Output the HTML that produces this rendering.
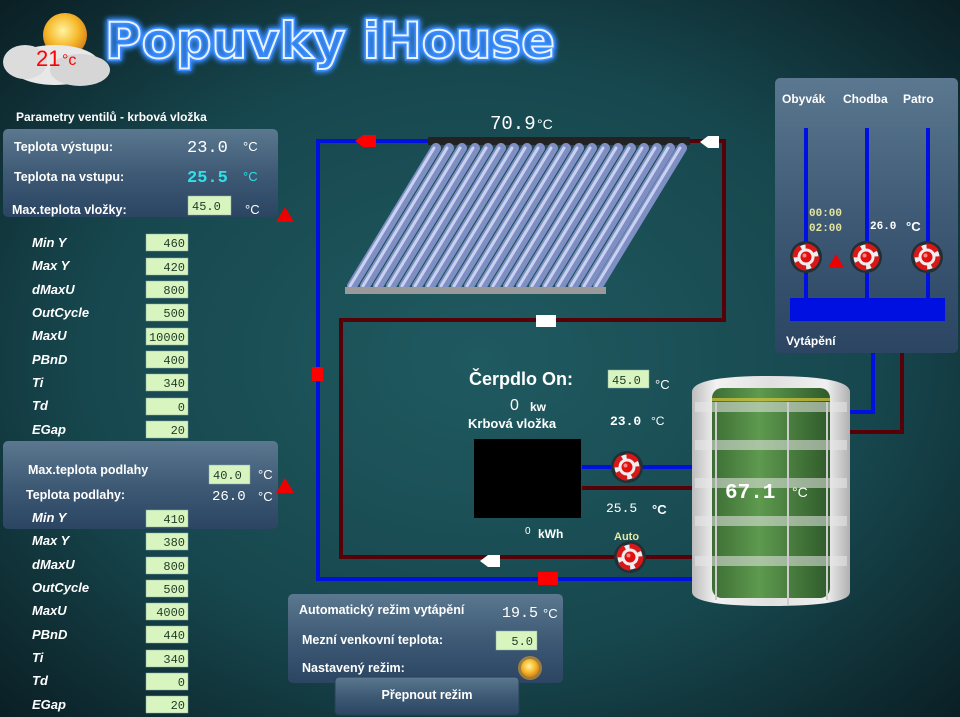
<!DOCTYPE html>
<html><head><meta charset="utf-8"><style>
html,body{margin:0;padding:0;width:960px;height:717px;overflow:hidden;background:#0d2a30}
svg{display:block}
text{font-family:"Liberation Sans","DejaVu Sans",sans-serif;font-weight:bold;fill:#fff}
.m{font-family:"Liberation Mono","DejaVu Sans Mono",monospace}
.lbl{font-size:13px;font-style:italic}
.inp{fill:#d9f5bf;stroke:#8aa;stroke-width:.5}
.iv{font-family:"Liberation Mono",monospace;font-weight:normal;font-size:12px;fill:#1e3a28}
</style></head><body>
<svg width="960" height="717" viewBox="0 0 960 717" xmlns="http://www.w3.org/2000/svg">
<defs>
<radialGradient id="bg" cx="0.5" cy="0.5" r="0.75">
<stop offset="0" stop-color="#1f5a60"/><stop offset="0.55" stop-color="#17474e"/><stop offset="1" stop-color="#08191e"/></radialGradient>
<linearGradient id="pan" x1="0" y1="0" x2="0" y2="1">
<stop offset="0" stop-color="#5b7890"/><stop offset="0.5" stop-color="#3e5a75"/><stop offset="1" stop-color="#2b4562"/></linearGradient>
<linearGradient id="tank" x1="0" y1="0" x2="1" y2="0">
<stop offset="0" stop-color="#bdbdbd"/><stop offset="0.15" stop-color="#f2f2f2"/><stop offset="0.5" stop-color="#e0e0e0"/><stop offset="0.85" stop-color="#f0f0f0"/><stop offset="1" stop-color="#b0b0b0"/></linearGradient>
<linearGradient id="grn" x1="0" y1="0" x2="1" y2="0">
<stop offset="0" stop-color="#3d6e34"/><stop offset="0.4" stop-color="#5e9a4f"/><stop offset="1" stop-color="#2f5a2a"/></linearGradient>
<radialGradient id="sun" cx="0.45" cy="0.4" r="0.6"><stop offset="0" stop-color="#fff3a0"/><stop offset="0.6" stop-color="#f5b82a"/><stop offset="1" stop-color="#d8801a"/></radialGradient>
<filter id="glow" x="-10%" y="-30%" width="120%" height="160%"><feGaussianBlur stdDeviation="3" result="b"/><feMerge><feMergeNode in="b"/><feMergeNode in="b"/><feMergeNode in="SourceGraphic"/></feMerge></filter>
<g id="pump">
<circle r="16" fill="#223036"/><circle r="12.5" fill="#eee"/>
<circle r="11" fill="none" stroke="#d81818" stroke-width="5" stroke-dasharray="12 5"/>
<circle r="5.5" fill="#e01010"/><circle cx="-1.5" cy="-1.5" r="2" fill="#ff8080"/>
</g>
</defs>
<rect width="960" height="717" fill="url(#bg)"/>

<!-- Title -->
<text x="105" y="58" font-size="50" textLength="450" lengthAdjust="spacingAndGlyphs" style="fill:none;stroke:#3a8cff;stroke-width:5;font-family:'DejaVu Sans',sans-serif" filter="url(#glow)">Popuvky iHouse</text>
<text x="105" y="58" font-size="50" textLength="450" lengthAdjust="spacingAndGlyphs" style="fill:none;stroke:#e8f4ff;stroke-width:2;font-family:'DejaVu Sans',sans-serif">Popuvky iHouse</text>
<!-- weather -->
<circle cx="65" cy="35" r="22" fill="url(#sun)"/>
<ellipse cx="55" cy="65" rx="45" ry="20" fill="#e8e8e8"/>
<ellipse cx="25" cy="62" rx="22" ry="17" fill="#dcdcdc"/>
<ellipse cx="80" cy="70" rx="30" ry="16" fill="#d6d6d6"/>
<text x="36" y="66" font-size="22" style="fill:#f00;font-weight:normal">21</text>
<text x="62" y="65" font-size="16" style="fill:#f00;font-weight:normal">°c</text>

<!-- Pipes -->
<g fill="none" stroke-width="4">
<path d="M430 141 H318 V579 H695" stroke="#0010e0"/>
<path d="M690 141 H724 V320 H341 V557 H695" stroke="#560008"/>
<path d="M582 467 H695" stroke="#0010e0"/>
<path d="M582 488 H695" stroke="#560008"/>
<path d="M850 412 H873 V318" stroke="#0010e0"/>
<path d="M850 432 H902 V318" stroke="#560008"/>
</g>
<!-- arrows -->
<path d="M355 141 l8 -6 h13 v12 h-13 z" fill="#f00"/>
<path d="M700 142 l8 -6 h11 v12 h-11 z" fill="#fff"/>
<rect x="536" y="315" width="20" height="12" fill="#fff"/>
<rect x="312" y="367" width="11" height="14" fill="#f00"/>
<path d="M480 561 l8 -6 h12 v12 h-12 z" fill="#fff"/>
<rect x="538" y="572" width="20" height="13" fill="#f00"/>

<!-- Solar collector -->
<text x="490" y="129" font-size="19" class="m" style="font-weight:normal">70.9</text>
<text x="537" y="129" font-size="14" style="font-weight:normal">°C</text>
<rect x="428" y="137" width="262" height="8" fill="#222"/>
<g stroke="#7f8fc4" stroke-width="10" stroke-linecap="round">
<line x1="436" y1="148" x2="352" y2="286"/><line x1="449" y1="148" x2="365" y2="286"/><line x1="462" y1="148" x2="378" y2="286"/><line x1="475" y1="148" x2="391" y2="286"/><line x1="488" y1="148" x2="404" y2="286"/><line x1="501" y1="148" x2="417" y2="286"/><line x1="514" y1="148" x2="430" y2="286"/><line x1="527" y1="148" x2="443" y2="286"/><line x1="540" y1="148" x2="456" y2="286"/><line x1="553" y1="148" x2="469" y2="286"/><line x1="566" y1="148" x2="482" y2="286"/><line x1="579" y1="148" x2="495" y2="286"/><line x1="592" y1="148" x2="508" y2="286"/><line x1="605" y1="148" x2="521" y2="286"/><line x1="618" y1="148" x2="534" y2="286"/><line x1="631" y1="148" x2="547" y2="286"/><line x1="644" y1="148" x2="560" y2="286"/><line x1="657" y1="148" x2="573" y2="286"/><line x1="670" y1="148" x2="586" y2="286"/><line x1="682" y1="148" x2="598" y2="286"/>
</g>
<g stroke="#c8d2f0" stroke-width="3" stroke-linecap="round" transform="translate(-2,0)">
<line x1="436" y1="148" x2="352" y2="286"/><line x1="449" y1="148" x2="365" y2="286"/><line x1="462" y1="148" x2="378" y2="286"/><line x1="475" y1="148" x2="391" y2="286"/><line x1="488" y1="148" x2="404" y2="286"/><line x1="501" y1="148" x2="417" y2="286"/><line x1="514" y1="148" x2="430" y2="286"/><line x1="527" y1="148" x2="443" y2="286"/><line x1="540" y1="148" x2="456" y2="286"/><line x1="553" y1="148" x2="469" y2="286"/><line x1="566" y1="148" x2="482" y2="286"/><line x1="579" y1="148" x2="495" y2="286"/><line x1="592" y1="148" x2="508" y2="286"/><line x1="605" y1="148" x2="521" y2="286"/><line x1="618" y1="148" x2="534" y2="286"/><line x1="631" y1="148" x2="547" y2="286"/><line x1="644" y1="148" x2="560" y2="286"/><line x1="657" y1="148" x2="573" y2="286"/><line x1="670" y1="148" x2="586" y2="286"/><line x1="682" y1="148" x2="598" y2="286"/>
</g>
<rect x="345" y="287" width="261" height="7" fill="#9a9a9a"/>

<!-- Left panel 1 -->
<text x="16" y="121" font-size="12">Parametry ventilů - krbová vložka</text>
<rect x="3" y="129" width="275" height="88" rx="5" fill="url(#pan)"/>
<text x="14" y="151" font-size="12.5">Teplota výstupu:</text>
<text x="187" y="152" font-size="17" class="m" style="font-weight:normal">23.0</text>
<text x="243" y="151" font-size="13" style="font-weight:normal">°C</text>
<text x="14" y="181" font-size="12.5">Teplota na vstupu:</text>
<text x="187" y="182" font-size="17" class="m" style="fill:#2fe0e6">25.5</text>
<text x="243" y="181" font-size="13" style="fill:#2fe0e6;font-weight:normal">°C</text>
<text x="12" y="214" font-size="12.5">Max.teplota vložky:</text>
<rect x="188" y="196" width="43" height="19" class="inp"/><text x="192" y="210" class="iv" font-size="13">45.0</text>
<text x="245" y="214" font-size="13" style="font-weight:normal">°C</text>
<path d="M276 222 l9 -15 l9 15 z" fill="#e00"/>

<g>
<text x="32" y="247" class="lbl">Min Y</text><rect x="146" y="234" width="42" height="17" class="inp"/><text x="185" y="247" class="iv" text-anchor="end">460</text>
<text x="32" y="270" class="lbl">Max Y</text><rect x="146" y="258" width="42" height="17" class="inp"/><text x="185" y="271" class="iv" text-anchor="end">420</text>
<text x="32" y="294" class="lbl">dMaxU</text><rect x="146" y="281" width="42" height="17" class="inp"/><text x="185" y="294" class="iv" text-anchor="end">800</text>
<text x="32" y="317" class="lbl">OutCycle</text><rect x="146" y="304" width="42" height="17" class="inp"/><text x="185" y="317" class="iv" text-anchor="end">500</text>
<text x="32" y="340" class="lbl">MaxU</text><rect x="146" y="328" width="42" height="17" class="inp"/><text x="185" y="341" class="iv" text-anchor="end">10000</text>
<text x="32" y="364" class="lbl">PBnD</text><rect x="146" y="351" width="42" height="17" class="inp"/><text x="185" y="364" class="iv" text-anchor="end">400</text>
<text x="32" y="387" class="lbl">Ti</text><rect x="146" y="374" width="42" height="17" class="inp"/><text x="185" y="387" class="iv" text-anchor="end">340</text>
<text x="32" y="410" class="lbl">Td</text><rect x="146" y="398" width="42" height="17" class="inp"/><text x="185" y="411" class="iv" text-anchor="end">0</text>
<text x="32" y="434" class="lbl">EGap</text><rect x="146" y="421" width="42" height="17" class="inp"/><text x="185" y="434" class="iv" text-anchor="end">20</text>
</g>

<!-- Left panel 2 -->
<rect x="3" y="441" width="275" height="88" rx="5" fill="url(#pan)"/>
<text x="28" y="474" font-size="12.5">Max.teplota podlahy</text>
<rect x="209" y="465" width="41" height="19" class="inp"/><text x="213" y="479" class="iv" font-size="13">40.0</text>
<text x="258" y="479" font-size="13" style="font-weight:normal">°C</text>
<path d="M276 493 l9 -15 l9 15 z" fill="#e00"/>
<text x="26" y="499" font-size="12.5">Teplota podlahy:</text>
<text x="212" y="500" font-size="14" class="m" style="font-weight:normal">26.0</text>
<text x="258" y="501" font-size="13" style="font-weight:normal">°C</text>
<g>
<text x="32" y="522" class="lbl">Min Y</text><rect x="146" y="510" width="42" height="17" class="inp"/><text x="185" y="523" class="iv" text-anchor="end">410</text>
<text x="32" y="545" class="lbl">Max Y</text><rect x="146" y="533" width="42" height="17" class="inp"/><text x="185" y="546" class="iv" text-anchor="end">380</text>
<text x="32" y="569" class="lbl">dMaxU</text><rect x="146" y="557" width="42" height="17" class="inp"/><text x="185" y="570" class="iv" text-anchor="end">800</text>
<text x="32" y="592" class="lbl">OutCycle</text><rect x="146" y="580" width="42" height="17" class="inp"/><text x="185" y="593" class="iv" text-anchor="end">500</text>
<text x="32" y="615" class="lbl">MaxU</text><rect x="146" y="603" width="42" height="17" class="inp"/><text x="185" y="616" class="iv" text-anchor="end">4000</text>
<text x="32" y="639" class="lbl">PBnD</text><rect x="146" y="626" width="42" height="17" class="inp"/><text x="185" y="639" class="iv" text-anchor="end">440</text>
<text x="32" y="662" class="lbl">Ti</text><rect x="146" y="650" width="42" height="17" class="inp"/><text x="185" y="663" class="iv" text-anchor="end">340</text>
<text x="32" y="685" class="lbl">Td</text><rect x="146" y="673" width="42" height="17" class="inp"/><text x="185" y="686" class="iv" text-anchor="end">0</text>
<text x="32" y="709" class="lbl">EGap</text><rect x="146" y="696" width="42" height="17" class="inp"/><text x="185" y="709" class="iv" text-anchor="end">20</text>
</g>

<!-- Vytapeni panel -->
<rect x="775" y="78" width="183" height="275" rx="5" fill="url(#pan)"/>
<text x="782" y="103" font-size="12">Obyvák</text>
<text x="843" y="103" font-size="12">Chodba</text>
<text x="903" y="103" font-size="12">Patro</text>
<g stroke="#0010e0" stroke-width="4"><line x1="806" y1="128" x2="806" y2="300"/><line x1="867" y1="128" x2="867" y2="300"/><line x1="928" y1="128" x2="928" y2="300"/></g>
<rect x="790" y="298" width="155" height="23" fill="#0010e0"/>
<text x="809" y="216" font-size="11" class="m" style="fill:#e6e6a0">00:00</text>
<text x="809" y="231" font-size="11" class="m" style="fill:#e6e6a0">02:00</text>
<text x="870" y="229" font-size="11" class="m">26.0</text>
<text x="906" y="231" font-size="13">°C</text>
<use href="#pump" x="806" y="257"/><use href="#pump" x="866" y="257"/><use href="#pump" x="927" y="257"/>
<path d="M828 268 l8 -14 l8 14 z" fill="#e00"/>
<text x="786" y="345" font-size="12">Vytápění</text>

<!-- Center -->
<text x="469" y="385" font-size="18">Čerpdlo On:</text>
<rect x="608" y="370" width="41" height="18" class="inp"/><text x="612" y="384" class="iv" font-size="13">45.0</text>
<text x="655" y="389" font-size="13" style="font-weight:normal">°C</text>
<text x="510" y="410" font-size="16" style="font-weight:normal">0</text>
<text x="530" y="411" font-size="12">kw</text>
<text x="468" y="428" font-size="13">Krbová vložka</text>
<text x="610" y="425" font-size="13" class="m">23.0</text>
<text x="651" y="425" font-size="12" style="font-weight:normal">°C</text>
<rect x="474" y="439" width="107" height="79" fill="#000"/>
<use href="#pump" x="627" y="467"/>
<text x="606" y="512" font-size="13" class="m" style="font-weight:normal">25.5</text>
<text x="652" y="514" font-size="13">°C</text>
<text x="525" y="534" font-size="10" style="font-weight:normal">0</text>
<text x="538" y="538" font-size="12">kWh</text>
<text x="614" y="540" font-size="11" style="fill:#e6e6a0">Auto</text>
<use href="#pump" x="630" y="557"/>

<!-- Tank -->
<path d="M692 392 Q692 376 770 376 Q850 376 850 392 V592 Q850 606 770 606 Q692 606 692 592 Z" fill="url(#tank)"/>
<rect x="712" y="388" width="118" height="210" rx="10" fill="url(#grn)"/>
<rect x="712" y="398" width="118" height="3" fill="#d8c83a" opacity="0.7"/>
<g fill="#e8e8e8" opacity="0.55">
<rect x="695" y="402" width="152" height="10"/><rect x="695" y="440" width="152" height="10"/><rect x="695" y="478" width="152" height="10"/><rect x="695" y="516" width="152" height="10"/><rect x="695" y="556" width="152" height="10"/></g>
<g stroke="#ccc" stroke-width="2"><line x1="716" y1="402" x2="716" y2="600"/><line x1="788" y1="402" x2="788" y2="605"/><line x1="827" y1="402" x2="827" y2="600"/></g>
<text x="725" y="498" font-size="21" class="m" style="font-weight:bold">67.1</text>
<text x="792" y="497" font-size="14" style="font-weight:normal">°C</text>

<!-- Bottom panel -->
<rect x="288" y="594" width="275" height="89" rx="5" fill="url(#pan)"/>
<text x="299" y="614" font-size="12.5">Automatický režim vytápění</text>
<text x="502" y="617" font-size="15" class="m" style="font-weight:normal">19.5</text>
<text x="543" y="618" font-size="13" style="font-weight:normal">°C</text>
<text x="302" y="644" font-size="12.5">Mezní venkovní teplota:</text>
<rect x="496" y="631" width="41" height="19" class="inp"/><text x="533" y="645" class="iv" font-size="13" text-anchor="end">5.0</text>
<text x="302" y="672" font-size="12.5">Nastavený režim:</text>
<circle cx="530" cy="668" r="12" fill="#e8a020" opacity="0.6"/><circle cx="530" cy="668" r="9" fill="url(#sun)"/>
<rect x="335" y="677" width="184" height="38" rx="4" fill="url(#pan)" stroke="#2a3e55"/>
<text x="427" y="699" font-size="12.5" text-anchor="middle">Přepnout režim</text>
</svg>
</body></html>
